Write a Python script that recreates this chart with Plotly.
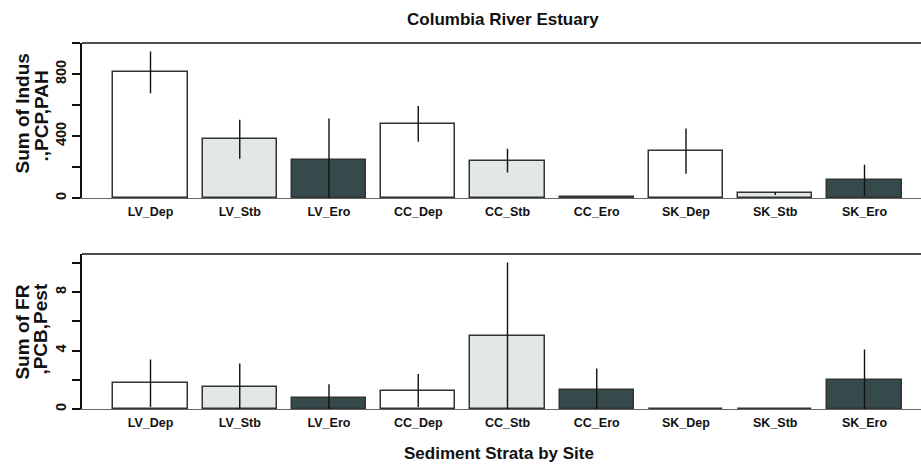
import plotly.graph_objects as go

W, H = 921, 468

categories = ["LV_Dep", "LV_Stb", "LV_Ero", "CC_Dep", "CC_Stb", "CC_Ero", "SK_Dep", "SK_Stb", "SK_Ero"]
strata = ["Dep", "Stb", "Ero", "Dep", "Stb", "Ero", "Dep", "Stb", "Ero"]

indus_mean = [811, 380, 248, 479, 242, 5, 304, 30, 116]
indus_err = [135, 126, 266, 116, 77, 0, 146, 10, 100]

fr_mean = [1.78, 1.50, 0.78, 1.28, 5.02, 1.35, 0.02, 0.02, 2.03]
fr_err = [1.62, 1.62, 0.93, 1.12, 5.0, 1.43, 0.0, 0.02, 2.05]

top_ticks = [0, 200, 400, 600, 800, 1000]
top_ticklabels = ["0", "", "400", "", "800", ""]
bot_ticks = [0, 2, 4, 6, 8, 10]
bot_ticklabels = ["0", "", "4", "", "8", ""]

title = "Columbia River Estuary"
xtitle = "Sediment Strata by Site"
ytitle_top = ["Sum of Indus", ".,PCP,PAH"]
ytitle_bot = ["Sum of FR", ",PCB,Pest"]

colors = {"Dep": "#ffffff", "Stb": "#e1e8e5", "Ero": "#374a4b"}
bar_colors = [colors[s] for s in strata]

FONT = "Liberation Sans, Arial"
xpos = list(range(len(categories)))

fig = go.Figure()
for vals, errs, ax in [(indus_mean, indus_err, ("x", "y")), (fr_mean, fr_err, ("x2", "y2"))]:
    fig.add_trace(go.Bar(
        x=xpos, y=vals, width=0.8333,
        marker=dict(color=bar_colors, line=dict(color="#333333", width=1.5)),
        error_y=dict(type="data", array=errs, visible=True, color="#111111", thickness=1.4, width=0),
        xaxis=ax[0], yaxis=ax[1], showlegend=False,
    ))

left = 82 / W
xr = [-0.7675, 8.633]
dom_top = [(H - 199) / H, (H - 43.3) / H]
dom_bot = [(H - 411) / H, (H - 255) / H]

xcommon = dict(range=xr, domain=[left, 1.0], tickvals=xpos, ticktext=categories,
               showline=True, linecolor="#666666", linewidth=1.2, ticks="",
               showgrid=False, zeroline=False, ticklabelstandoff=2,
               tickfont=dict(family=FONT, size=12.5, color="#111111", weight="bold"))
ycommon = dict(showline=True, linecolor="#111111", linewidth=1.5, ticks="outside",
               ticklen=8, tickwidth=1.5, tickcolor="#111111", showgrid=False,
               zeroline=False, tickangle=-90,
               tickfont=dict(family=FONT, size=14.5, color="#111111", weight="bold"))

fig.update_layout(
    width=W, height=H, margin=dict(l=0, r=0, t=0, b=0),
    paper_bgcolor="white", plot_bgcolor="white",
    bargap=0,
    xaxis=dict(**xcommon, anchor="y"),
    xaxis2=dict(**xcommon, anchor="y2"),
    yaxis=dict(**ycommon, domain=dom_top, range=[0, 1000], tickvals=top_ticks,
               ticktext=top_ticklabels, anchor="x"),
    yaxis2=dict(**ycommon, domain=dom_bot, range=[0, 10.6], tickvals=bot_ticks,
                ticktext=bot_ticklabels, anchor="x2"),
)

shapes = []
for d in (dom_top, dom_bot):
    shapes.append(dict(type="line", xref="paper", yref="paper", x0=left, x1=1.0,
                       y0=d[1], y1=d[1], line=dict(color="#111111", width=1.5)))
fig.update_layout(shapes=shapes)

ann = []
ann.append(dict(text=f"<b>{title}</b>", x=503 / W, y=1 - 20 / H, xref="paper", yref="paper",
                showarrow=False, xanchor="center", yanchor="middle",
                font=dict(family=FONT, size=17, color="#111111")))
ann.append(dict(text=f"<b>{xtitle}</b>", x=499 / W, y=1 - 455 / H, xref="paper", yref="paper",
                showarrow=False, xanchor="center", yanchor="middle",
                font=dict(family=FONT, size=17, color="#111111")))
for lines, ys in [(ytitle_top, (114, 117)), (ytitle_bot, (334, 331))]:
    for txt, xc, yc in [(lines[0], 23, ys[0]), (lines[1], 41, ys[1])]:
        ann.append(dict(text=f"<b>{txt}</b>", x=xc / W, y=1 - yc / H, xref="paper", yref="paper",
                        showarrow=False, xanchor="center", yanchor="middle", textangle=-90,
                        font=dict(family=FONT, size=19, color="#111111")))
fig.update_layout(annotations=ann)

fig.write_html("out.html")
